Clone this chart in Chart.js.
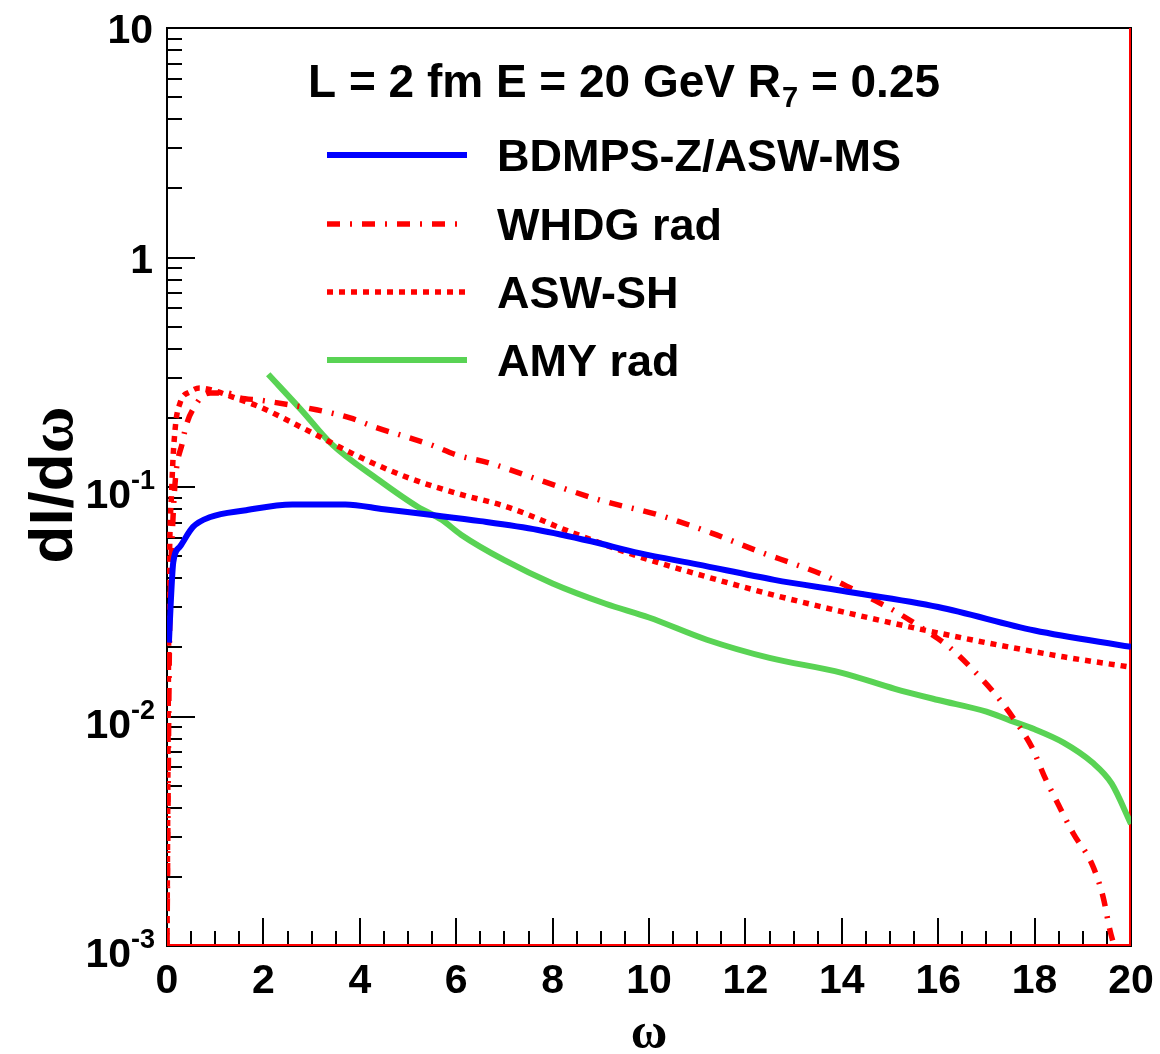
<!DOCTYPE html>
<html>
<head>
<meta charset="utf-8">
<script src="https://cdn.jsdelivr.net/npm/chart.js@4.4.1/dist/chart.umd.min.js"></script>
<style>
  html, body { margin: 0; padding: 0; background: #ffffff; }
  #c { display: block; }
</style>
</head>
<body>
<canvas id="c" width="1160" height="1054"></canvas>
<script>
// ---------------- data ----------------
const xTickValues = [0, 2, 4, 6, 8, 10, 12, 14, 16, 18, 20];
const xTickLabels = ["0", "2", "4", "6", "8", "10", "12", "14", "16", "18", "20"];
const yTickValues = [10, 1, 0.1, 0.01, 0.001];
const yTickLabels = ["10", "1", "10^{-1}", "10^{-2}", "10^{-3}"];

const seriesNames = ["BDMPS-Z/ASW-MS", "WHDG rad", "ASW-SH", "AMY rad"];
const titleText = ["L = 2 fm E = 20 GeV R", "7", " = 0.25"];
const xTitle = "\u03c9";
const yTitle = ["dI/d", "\u03c9"];

const bdmpsX = [0.04, 0.08, 0.13, 0.27, 0.54, 0.9, 1.6, 2.6, 3.7, 4.5, 5.5, 6.5, 7.7, 8.8, 9.8, 11.0, 12.6, 14.0, 16.0, 18.0, 20.0];
const bdmpsY = [0.021, 0.032, 0.047, 0.055, 0.067, 0.074, 0.079, 0.084, 0.084, 0.080, 0.0755, 0.071, 0.065, 0.058, 0.0515, 0.046, 0.0394, 0.0353, 0.030, 0.0237, 0.0201];

const whdgX = [0, 0.05, 0.12, 0.33, 0.62, 0.9, 1.24, 1.5, 1.93, 3.1, 3.8, 4.36, 4.98, 5.5, 6.0, 6.7, 7.74, 8.98, 10.2, 11.3, 12.37, 13.0, 13.57, 14.1, 14.54, 15.1, 15.66, 16.2, 16.72, 17.2, 17.55, 17.95, 18.2, 18.5, 18.8, 19.2, 19.42, 19.56, 19.65];
const whdgY = [0.001, 0.02, 0.07, 0.16, 0.232, 0.257, 0.257, 0.245, 0.239, 0.217, 0.2, 0.181, 0.165, 0.152, 0.138, 0.127, 0.107, 0.0877, 0.0755, 0.063, 0.0515, 0.0463, 0.0418, 0.037, 0.0332, 0.0288, 0.0243, 0.0203, 0.016, 0.0124, 0.0099, 0.0073, 0.0055, 0.0041, 0.0031, 0.00225, 0.00164, 0.00118, 0.001];

const aswshX = [0, 0.04, 0.1, 0.17, 0.27, 0.48, 0.68, 1.0, 1.4, 1.93, 2.97, 4.0, 5.04, 6.0, 7.05, 8.43, 9.81, 11.2, 12.57, 14.4, 16.5, 18.6, 20];
const aswshY = [0.001, 0.03, 0.10, 0.18, 0.232, 0.26, 0.27, 0.262, 0.245, 0.223, 0.174, 0.135, 0.109, 0.094, 0.082, 0.063, 0.0496, 0.0406, 0.0339, 0.0274, 0.022, 0.0182, 0.0164];

const amyX = [2.1, 2.8, 3.4, 4.4, 5.2, 5.7, 6.1, 7.0, 8.0, 9.1, 10.0, 11.2, 12.5, 14.0, 15.1, 16.0, 17.0, 17.5, 18.0, 18.6, 19.2, 19.6, 20.0];
const amyY = [0.31, 0.215, 0.155, 0.107, 0.082, 0.072, 0.062, 0.048, 0.038, 0.031, 0.027, 0.0216, 0.018, 0.0155, 0.0132, 0.0118, 0.0105, 0.0096, 0.0088, 0.0077, 0.0063, 0.0051, 0.0034];

const xRange = [0, 20];
const yRange = [0.001, 10];

// ---------------- helpers ----------------
function pts(xs, ys) { return xs.map((x, i) => ({ x: x, y: ys[i] })); }

const BLUE = "#0000ff", RED = "#ff0000", GREEN = "#59d354";
const NUM_FONT = "bold 41px 'Liberation Sans', Arial, sans-serif";
const EXP_FONT = "bold 27px 'Liberation Sans', Arial, sans-serif";
const TITLE_FONT = "bold 46px 'Liberation Sans', Arial, sans-serif";
const LEG_FONT = "bold 45px 'Liberation Sans', Arial, sans-serif";
const SUB_FONT = "bold 29px 'Liberation Sans', Arial, sans-serif";

const datasets = [
  { label: seriesNames[0], data: pts(bdmpsX, bdmpsY), borderColor: BLUE, borderWidth: 6, borderDash: [] },
  { label: seriesNames[1], data: pts(whdgX, whdgY), borderColor: RED, borderWidth: 5.5, borderDash: [13, 10, 2, 10] },
  { label: seriesNames[2], data: pts(aswshX, aswshY), borderColor: RED, borderWidth: 5.5, borderDash: [6, 6] },
  { label: seriesNames[3], data: pts(amyX, amyY), borderColor: GREEN, borderWidth: 6, borderDash: [] },
  { label: "frame", data: [{ x: xRange[0], y: yRange[0] }, { x: xRange[1], y: yRange[0] }, { x: xRange[1], y: yRange[1] }],
    borderColor: RED, borderWidth: 4, borderDash: [], clip: 0, isFrame: true }
].map(d => Object.assign({ pointRadius: 0, fill: false, cubicInterpolationMode: d.isFrame ? "default" : "monotone", tension: 0 }, d));

// ---------------- plugins ----------------
const framePlugin = {
  id: "rootFrame",
  beforeDatasetsDraw(chart) {
    const ctx = chart.ctx, a = chart.chartArea;
    const xs = chart.scales.x, ys = chart.scales.y;
    ctx.save();
    ctx.strokeStyle = "#000";
    ctx.lineWidth = 2;
    ctx.strokeRect(a.left, a.top, a.right - a.left, a.bottom - a.top);
    ctx.beginPath();
    for (let v = xRange[0]; v <= xRange[1] + 1e-9; v += 0.5) {
      const px = Math.round(xs.getPixelForValue(v));
      const major = Math.abs(v / 2 - Math.round(v / 2)) < 1e-9;
      ctx.moveTo(px, a.bottom);
      ctx.lineTo(px, a.bottom - (major ? 28 : 15));
    }
    for (let e = -3; e <= 0; e++) {
      for (let m = 1; m <= 9; m++) {
        const v = m * Math.pow(10, e);
        const py = Math.round(ys.getPixelForValue(v));
        ctx.moveTo(a.left, py);
        ctx.lineTo(a.left + (m === 1 ? 28 : 15), py);
      }
    }
    ctx.stroke();
    ctx.restore();
  },
  afterDatasetsDraw(chart) {
    const ctx = chart.ctx, a = chart.chartArea;
    const xs = chart.scales.x, ys = chart.scales.y;
    ctx.save();
    ctx.fillStyle = "#000";
    ctx.font = NUM_FONT;
    ctx.textAlign = "center";
    ctx.textBaseline = "alphabetic";
    xTickValues.forEach((v, i) => {
      ctx.fillText(xTickLabels[i], xs.getPixelForValue(v), a.bottom + 47);
    });
    yTickValues.forEach((v, i) => {
      const py = ys.getPixelForValue(v);
      const lab = yTickLabels[i];
      const m = lab.match(/^(.*)\^\{(.*)\}$/);
      const right = a.left - 12;
      if (m) {
        ctx.font = EXP_FONT;
        ctx.textAlign = "right";
        ctx.fillText(m[2], right, py + 2);
        const ew = ctx.measureText(m[2]).width;
        ctx.font = NUM_FONT;
        ctx.fillText(m[1], right - ew, py + 21);
      } else {
        ctx.font = NUM_FONT;
        ctx.textAlign = "right";
        ctx.fillText(lab, right - 2, py + 15);
      }
    });
    ctx.font = "bold 50px 'Liberation Serif', 'DejaVu Serif', serif";
    ctx.textAlign = "center";
    ctx.fillText(xTitle, xs.getPixelForValue(10), 1048);
    ctx.save();
    ctx.translate(72, 485);
    ctx.rotate(-Math.PI / 2);
    const f1 = "bold 62px 'Liberation Sans', Arial, sans-serif";
    const f2 = "bold 64px 'Liberation Serif', 'DejaVu Serif', serif";
    ctx.font = f1;
    const w1 = ctx.measureText(yTitle[0]).width;
    ctx.font = f2;
    const w2 = ctx.measureText(yTitle[1]).width;
    const start = -(w1 + w2) / 2;
    ctx.textAlign = "left";
    ctx.font = f1;
    ctx.fillText(yTitle[0], start, 0);
    ctx.font = f2;
    ctx.fillText(yTitle[1], start + w1, 0);
    ctx.restore();
    ctx.textAlign = "left";
    let tx = 308;
    const tb = 97;
    ctx.font = TITLE_FONT;
    ctx.fillText(titleText[0], tx, tb);
    tx += ctx.measureText(titleText[0]).width;
    ctx.font = SUB_FONT;
    ctx.fillText(titleText[1], tx + 1, tb + 10);
    tx += ctx.measureText(titleText[1]).width + 1;
    ctx.font = TITLE_FONT;
    ctx.fillText(titleText[2], tx, tb);
    const rows = [155, 224, 292, 360];
    chart.data.datasets.slice(0, 4).forEach((d, i) => {
      const y = rows[i];
      ctx.save();
      ctx.strokeStyle = d.borderColor;
      ctx.lineWidth = d.borderWidth;
      ctx.setLineDash(d.borderDash || []);
      ctx.beginPath();
      ctx.moveTo(327, y);
      ctx.lineTo(467, y);
      ctx.stroke();
      ctx.restore();
      ctx.font = LEG_FONT;
      ctx.fillStyle = "#000";
      ctx.fillText(d.label, 497, y + 16);
    });
    ctx.restore();
  }
};

new Chart(document.getElementById("c"), {
  type: "line",
  data: { datasets: datasets },
  options: {
    responsive: false,
    devicePixelRatio: 1,
    animation: false,
    layout: { padding: { left: 167, top: 28, right: 29, bottom: 108 } },
    plugins: { legend: { display: false }, tooltip: { enabled: false }, title: { display: false } },
    scales: {
      x: { type: "linear", min: xRange[0], max: xRange[1], display: false },
      y: { type: "logarithmic", min: yRange[0], max: yRange[1], display: false }
    }
  },
  plugins: [framePlugin]
});
</script>
</body>
</html>
